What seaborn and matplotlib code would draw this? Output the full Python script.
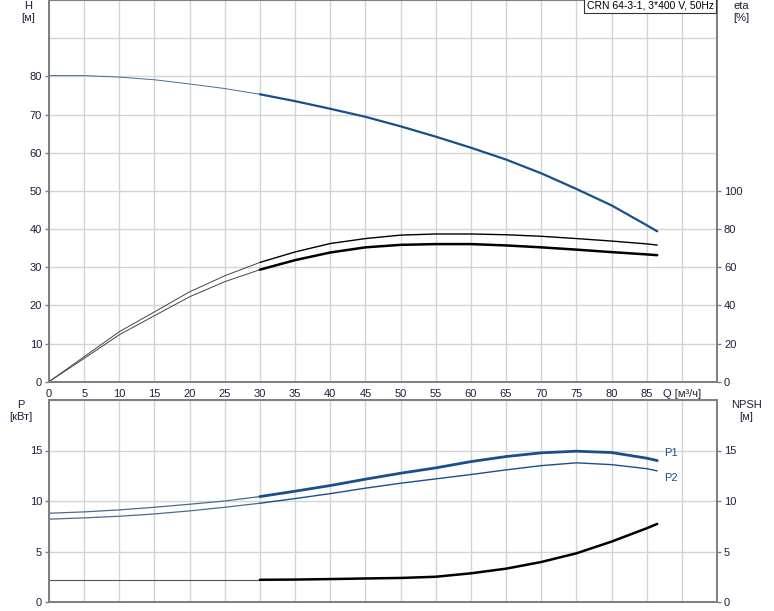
import matplotlib
matplotlib.use("Agg")
import matplotlib.pyplot as plt
import numpy as np
import pandas as pd
import seaborn as sns

# flow points, m3/h
q = [0, 5, 10, 15, 20, 25, 30, 35, 40, 45, 50, 55, 60, 65, 70, 75, 80, 85, 86.5]

head = [80.2, 80.2, 79.8, 79.1, 78.0, 76.8, 75.3, 73.5, 71.5, 69.4, 66.9,
        64.2, 61.3, 58.2, 54.6, 50.5, 46.2, 41.0, 39.4]
eta_pump = [0, 13.1, 26.2, 36.6, 47.1, 55.5, 62.5, 68.0, 72.4, 75.0, 76.8,
            77.4, 77.4, 77.0, 76.2, 75.0, 73.7, 72.2, 71.6]
eta_total = [0, 12.2, 24.6, 34.6, 44.5, 52.4, 58.7, 63.7, 67.7, 70.4, 71.7,
             72.1, 72.1, 71.4, 70.4, 69.2, 67.9, 66.7, 66.3]
p1 = [8.79, 8.92, 9.12, 9.38, 9.68, 10.0, 10.44, 10.97, 11.53, 12.16, 12.75,
      13.28, 13.9, 14.4, 14.77, 14.93, 14.8, 14.24, 14.0]
p2 = [8.2, 8.33, 8.49, 8.72, 9.02, 9.38, 9.78, 10.24, 10.73, 11.27, 11.76,
      12.19, 12.62, 13.08, 13.5, 13.78, 13.6, 13.2, 12.98]
npsh = [2.2, 2.2, 2.2, 2.2, 2.2, 2.2, 2.2, 2.22, 2.27, 2.33, 2.38, 2.5, 2.84,
        3.3, 3.96, 4.82, 5.98, 7.3, 7.73]

x_ticks = [0, 5, 10, 15, 20, 25, 30, 35, 40, 45, 50, 55, 60, 65, 70, 75, 80, 85, 90]
x_labels = [str(v) for v in x_ticks[:-1]] + ["Q [м³/ч]"]
title = "CRN 64-3-1, 3*400 V, 50Hz"

df = pd.DataFrame({"Q": q, "H": head, "eta1": eta_pump, "eta2": eta_total,
                   "P1": p1, "P2": p2, "NPSH": npsh})
lo = df[df["Q"] <= 30]
hi = df[df["Q"] >= 30]

sns.set_style("white")
plt.rcParams["font.family"] = ["Liberation Sans", "DejaVu Sans"]
plt.rcParams["font.size"] = 8

BLUE = "#1a4f8c"
GRID = "#d2d4d8"
SPINE = "#808080"
TXT = "#1e1e3c"

fig = plt.figure(figsize=(7.74, 6.11), dpi=100)
ax1 = fig.add_axes([49 / 774, 1 - 381.7 / 611, 668 / 774, 381.7 / 611])
ax2 = fig.add_axes([49 / 774, 1 - 602 / 611, 668 / 774, 202 / 611])


def draw(ax, col, color, thin_w=0.7, thick_w=1.6, thin_color=None):
    sns.lineplot(data=lo, x="Q", y=col, ax=ax, color=thin_color or color,
                 linewidth=thin_w, estimator=None, sort=False)
    sns.lineplot(data=hi, x="Q", y=col, ax=ax, color=color,
                 linewidth=thick_w, estimator=None, sort=False)


def style(ax, ymax, ystep, ylab_max):
    ax.set_xlim(0, 95)
    ax.set_ylim(0, ymax)
    ax.set_xticks(np.arange(0, 96, 5), minor=True)
    ax.set_yticks(np.arange(0, ymax + 0.1, ystep), minor=True)
    ax.set_yticks(np.arange(0, ylab_max + 0.1, ystep))
    ax.grid(which="both", color=GRID, linewidth=1.0)
    ax.set_axisbelow(True)
    ax.tick_params(which="minor", length=0)
    ax.tick_params(which="major", length=3, width=1, color=SPINE,
                   labelsize=8, labelcolor=TXT, pad=2)
    for s in ax.spines.values():
        s.set_color(SPINE)
        s.set_linewidth(1.4)
    ax.set_xlabel("")
    ax.set_ylabel("")


# top panel: head and efficiency
draw(ax1, "H", BLUE, thin_color="#4a6a96")
style(ax1, 100, 10, 80)
ax1.set_xticks(x_ticks)
ax1.set_xticklabels(x_labels)
ax1.grid(which="both", color=GRID, linewidth=1.0)

ax1r = ax1.twinx()
draw(ax1r, "eta1", "black", thick_w=1.0, thin_color="#444444")
draw(ax1r, "eta2", "black", thick_w=1.8, thin_color="#444444")
ax1r.set_ylim(0, 200)
ax1r.set_yticks(np.arange(0, 101, 20))
ax1r.tick_params(length=3, width=1, color=SPINE, labelsize=8,
                 labelcolor=TXT, pad=2)
ax1r.set_ylabel("")
ax1r.grid(False)
for s in ax1r.spines.values():
    s.set_color(SPINE)
    s.set_linewidth(1.4)

ax1r.text(0.995, 0.998, title, transform=ax1r.transAxes, ha="right", va="top",
          fontsize=7.5, color="black",
          bbox=dict(boxstyle="square,pad=0.25", fc="white", ec="#333333", lw=0.8))

# bottom panel: power and NPSH
draw(ax2, "P1", BLUE, thick_w=2.0, thin_color="#4a6a96", thin_w=0.9)
draw(ax2, "P2", BLUE, thick_w=1.0, thin_color="#4a6a96", thin_w=0.9)
draw(ax2, "NPSH", "black", thick_w=1.8, thin_color="#555555", thin_w=0.8)
style(ax2, 20, 5, 15)
ax2.set_xticks([])
ax2.text(87.5, 14.8, "P1", fontsize=8, color=BLUE, ha="left", va="center")
ax2.text(87.5, 12.3, "P2", fontsize=8, color=BLUE, ha="left", va="center")

ax2r = ax2.twinx()
ax2r.set_ylim(0, 20)
ax2r.set_yticks([0, 5, 10, 15])
ax2r.grid(False)
ax2r.tick_params(length=3, width=1, color=SPINE, labelsize=8,
                 labelcolor=TXT, pad=2)
for s in ax2r.spines.values():
    s.set_color(SPINE)
    s.set_linewidth(1.4)

# axis captions
for x, y, t in [(28, 6, "H"), (28, 18, "[м]"), (741, 6, "eta"), (741, 18, "[%]"),
                (21, 405, "P"), (21, 417, "[кВт]"), (746, 405, "NPSH"), (746, 417, "[м]")]:
    fig.text(x / 774, 1 - y / 611, t, ha="center", va="center", fontsize=8, color=TXT)

fig.savefig("out.png", dpi=100)
